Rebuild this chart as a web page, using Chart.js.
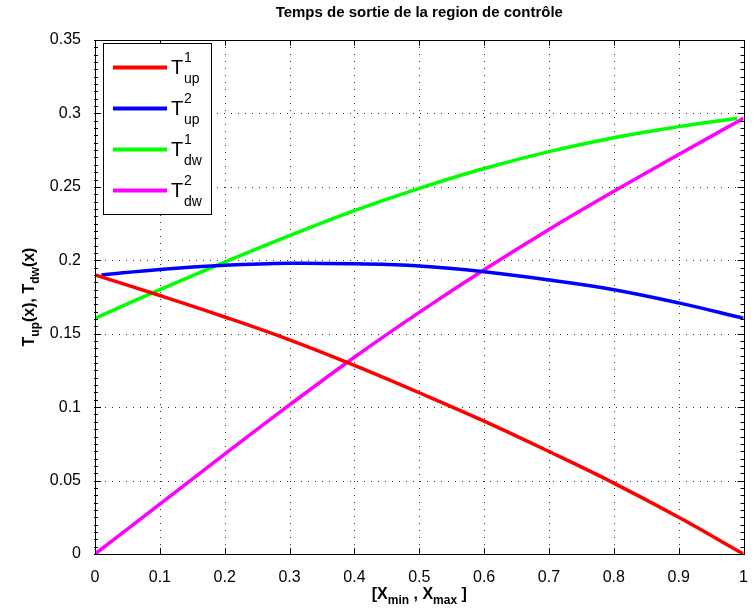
<!DOCTYPE html>
<html>
<head>
<meta charset="utf-8">
<script src="https://cdn.jsdelivr.net/npm/chart.js@4/dist/chart.umd.min.js"></script>
<style>
  html, body { margin: 0; padding: 0; background: #fff; }
  #wrap { width: 754px; height: 610px; }
</style>
</head>
<body>
<div id="wrap"><canvas id="c" width="754" height="610"></canvas></div>
<script>
// valeurs
const xValues = [0, 0.1, 0.2, 0.3, 0.4, 0.5, 0.6, 0.7, 0.8, 0.9, 1.0];
const xUp2 = [0.01, 0.1, 0.2, 0.3, 0.4, 0.5, 0.6, 0.7, 0.8, 0.9, 1.0];
const xDw1 = [0, 0.1, 0.2, 0.3, 0.4, 0.5, 0.6, 0.7, 0.8, 0.9, 0.99];

const tUp1 = [0.190, 0.1760, 0.1614, 0.1458, 0.1284, 0.1098, 0.0905, 0.0698, 0.0483, 0.0250, 0];
const tUp2 = [0.190, 0.1938, 0.1966, 0.198, 0.1976, 0.1961, 0.1922, 0.1866, 0.1800, 0.1710, 0.1605];
const tDw1 = [0.1605, 0.180, 0.1988, 0.2168, 0.2338, 0.2490, 0.2625, 0.2740, 0.2835, 0.2910, 0.2967];
const tDw2 = [0, 0.034, 0.068, 0.1015, 0.134, 0.1645, 0.1935, 0.221, 0.247, 0.272, 0.2967];

const legendSup = ['1', '2', '1', '2'];
const legendSub = ['up', 'up', 'dw', 'dw'];
const colors = ['#ff0000', '#0000ff', '#00ff00', '#ff00ff'];

const yTickLabels = ['0', '0.05', '0.1', '0.15', '0.2', '0.25', '0.3', '0.35'];
const xTickLabels = ['0', '0.1', '0.2', '0.3', '0.4', '0.5', '0.6', '0.7', '0.8', '0.9', '1'];

const titleText = 'Temps de sortie de la region de contrôle';
const FONT = "'Liberation Sans', Arial, Helvetica, sans-serif";

const toPoints = (xs, ys) => xs.map((x, i) => ({ x: x, y: ys[i] }));

const series = [
  toPoints(xValues, tUp1),
  toPoints(xUp2, tUp2),
  toPoints(xDw1, tDw1),
  toPoints(xValues, tDw2),
];

// draws runs of text with sub/superscripts, returns total width
function drawRuns(ctx, runs, x, y, measureOnly) {
  let cx = x;
  runs.forEach(r => {
    ctx.font = r.font;
    const w = ctx.measureText(r.text).width;
    if (!measureOnly) ctx.fillText(r.text, cx, y + (r.dy || 0));
    cx += w;
  });
  return cx - x;
}

// dotted grid, drawn by hand so the dots stay crisp
const dottedGrid = {
  id: 'dottedGrid',
  beforeDatasetsDraw(chart) {
    const ctx = chart.ctx;
    const a = chart.chartArea;
    const xs = chart.scales.x;
    const ys = chart.scales.y;
    ctx.save();
    ctx.fillStyle = '#333';
    xs.ticks.forEach(t => {
      const px = Math.round(xs.getPixelForValue(t.value));
      for (let y = a.bottom - 3; y > a.top; y -= 7) ctx.fillRect(px, y, 1, 1);
    });
    ys.ticks.forEach(t => {
      const py = Math.round(ys.getPixelForValue(t.value));
      for (let x = a.left + 3; x < a.right; x += 7) ctx.fillRect(x, py, 1, 1);
    });
    ctx.restore();
  }
};

const matlabLook = {
  id: 'matlabLook',
  afterDraw(chart) {
    const ctx = chart.ctx;
    const a = chart.chartArea;
    const xs = chart.scales.x;
    const ys = chart.scales.y;

    ctx.save();
    ctx.strokeStyle = '#000';
    ctx.lineWidth = 1;

    // ticks inside, all sides
    ctx.beginPath();
    xs.ticks.forEach(t => {
      const px = Math.round(xs.getPixelForValue(t.value)) + 0.5;
      ctx.moveTo(px, a.bottom); ctx.lineTo(px, a.bottom - 6);
      ctx.moveTo(px, a.top); ctx.lineTo(px, a.top + 6);
    });
    ys.ticks.forEach(t => {
      const py = Math.round(ys.getPixelForValue(t.value)) + 0.5;
      ctx.moveTo(a.left, py); ctx.lineTo(a.left + 6, py);
      ctx.moveTo(a.right, py); ctx.lineTo(a.right - 6, py);
    });
    // minor ticks on y
    for (let k = 0; k <= 70; k++) {
      const py = Math.round(ys.getPixelForValue(k * 0.005)) + 0.5;
      ctx.moveTo(a.left - 1, py); ctx.lineTo(a.left + 3, py);
      ctx.moveTo(a.right + 1, py); ctx.lineTo(a.right - 3, py);
    }
    ctx.stroke();

    // box
    ctx.strokeRect(Math.round(a.left) + 0.5, Math.round(a.top) + 0.5,
      Math.round(a.right - a.left), Math.round(a.bottom - a.top));

    // legend
    const lx = 103, ly = 43, lw = 108, lh = 171;
    ctx.fillStyle = '#fff';
    ctx.fillRect(lx, ly, lw, lh);
    ctx.strokeRect(lx + 0.5, ly + 0.5, lw, lh);
    ctx.fillStyle = '#000';
    ctx.textBaseline = 'alphabetic';
    ctx.textAlign = 'left';
    for (let i = 0; i < 4; i++) {
      const rowY = 67.5 + i * 41;
      ctx.strokeStyle = colors[i];
      ctx.lineWidth = 4;
      ctx.beginPath();
      ctx.moveTo(113, rowY); ctx.lineTo(167, rowY);
      ctx.stroke();
      ctx.font = '20px ' + FONT;
      ctx.fillText('T', 171, rowY + 6);
      ctx.font = '14px ' + FONT;
      ctx.fillText(legendSup[i], 184, rowY - 6);
      ctx.fillText(legendSub[i], 184, rowY + 15);
    }

    // title
    ctx.fillStyle = '#000';
    ctx.font = 'bold 15px ' + FONT;
    ctx.textAlign = 'center';
    ctx.fillText(titleText, (a.left + a.right) / 2, 17);
    ctx.textAlign = 'left';

    // x label
    const big = 'bold 16px ' + FONT, small = 'bold 12px ' + FONT;
    const xRuns = [
      { text: '[X', font: big },
      { text: 'min', font: small, dy: 5 },
      { text: ' , X', font: big },
      { text: 'max', font: small, dy: 5 },
      { text: ' ]', font: big },
    ];
    const xw = drawRuns(ctx, xRuns, 0, 0, true);
    drawRuns(ctx, xRuns, (a.left + a.right) / 2 - xw / 2, 599, false);

    // y label
    const yRuns = [
      { text: 'T', font: big },
      { text: 'up', font: small, dy: 5 },
      { text: '(x), T', font: big },
      { text: 'dw', font: small, dy: 5 },
      { text: '(x)', font: big },
    ];
    const yw = drawRuns(ctx, yRuns, 0, 0, true);
    ctx.translate(34, (a.top + a.bottom) / 2);
    ctx.rotate(-Math.PI / 2);
    drawRuns(ctx, yRuns, -yw / 2, 0, false);
    ctx.restore();
  }
};

new Chart(document.getElementById('c'), {
  type: 'line',
  data: {
    datasets: series.map((pts, i) => ({
      label: 'T' + legendSup[i] + legendSub[i],
      data: pts,
      borderColor: colors[i],
      backgroundColor: colors[i],
      borderWidth: 3.5,
      pointRadius: 0,
      tension: 0.4,
      fill: false,
    })),
  },
  options: {
    responsive: false,
    animation: false,
    layout: { autoPadding: false, padding: { top: 40, right: 2, left: 0, bottom: 0 } },
    plugins: { legend: { display: false }, title: { display: false }, tooltip: { enabled: false } },
    scales: {
      x: {
        type: 'linear',
        min: 0, max: 1,
        afterFit: s => { s.height = 56; },
        ticks: {
          stepSize: 0.1,
          padding: 6,
          color: '#000',
          font: { family: FONT, size: 16 },
          maxRotation: 0,
          callback: (v, i) => xTickLabels[i],
        },
        grid: { display: false },
        border: { display: false },
      },
      y: {
        min: 0, max: 0.35,
        afterFit: s => { s.width = 95; },
        ticks: {
          stepSize: 0.05,
          padding: 6,
          color: '#000',
          font: { family: FONT, size: 16 },
          callback: (v, i) => yTickLabels[i],
        },
        grid: { display: false },
        border: { display: false },
      },
    },
  },
  plugins: [dottedGrid, matlabLook],
});
</script>
</body>
</html>
